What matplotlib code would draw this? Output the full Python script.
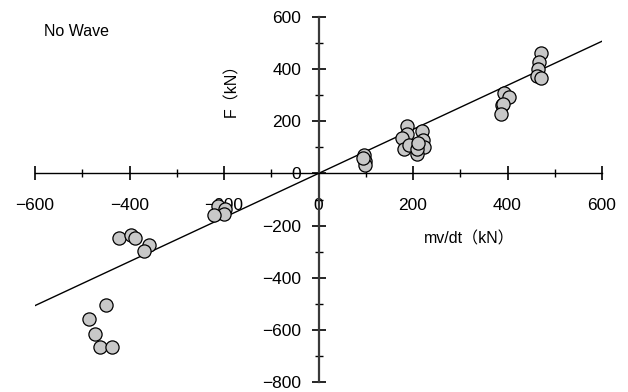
import matplotlib.pyplot as plt
from matplotlib.ticker import MultipleLocator

plt.rcParams['font.family'] = ['Liberation Sans', 'Noto Sans CJK JP', 'DejaVu Sans']

# measured momentum rate vs. force, no wave case
mvdt = [471, 467, 465, 463, 471,
        392, 403, 388, 390, 386,
        187, 187, 177, 181, 192, 220, 222, 223, 209, 208, 211,
        96, 98, 99, 94,
        -212, -198, -200, -221,
        -422, -397, -388, -359, -369,
        -450, -485, -473, -462, -438]
force = [461, 427, 401, 374, 366,
         308, 294, 262, 266, 228,
         181, 151, 136, 94, 109, 164, 130, 100, 75, 92, 115,
         69, 47, 32, 60,
         -125, -137, -156, -160,
         -249, -237, -246, -275, -296,
         -506, -557, -615, -665, -665]

slope = 0.845
fit_x = [-600, 600]
fit_y = [slope * v for v in fit_x]

fig = plt.figure(figsize=(6.28, 3.92), dpi=100)
ax = fig.add_axes([35 / 628, 10 / 392, 567 / 628, 365 / 392])

ax.plot(fit_x, fit_y, color='black', lw=1.0, zorder=2)
ax.scatter(mvdt, force, s=90, facecolor='#c8c8c8', edgecolor='black',
           linewidth=0.9, zorder=3, clip_on=False)

ax.set_xlim(-600, 600)
ax.set_ylim(-800, 600)

for side in ['top', 'right']:
    ax.spines[side].set_visible(False)
ax.spines['left'].set_position(('data', 0))
ax.spines['bottom'].set_position(('data', 0))
ax.spines['left'].set_color('#3a3a3a')
ax.spines['left'].set_linewidth(1.6)
ax.spines['bottom'].set_linewidth(1.0)

ax.xaxis.set_major_locator(MultipleLocator(200))
ax.xaxis.set_minor_locator(MultipleLocator(100))
ax.yaxis.set_major_locator(MultipleLocator(200))
ax.yaxis.set_minor_locator(MultipleLocator(100))
ax.tick_params(which='major', direction='inout', length=10, width=1.2,
               labelsize=12.5, color='black')
ax.tick_params(which='minor', direction='inout', length=6, width=1.0)
ax.tick_params(axis='x', pad=13)
ax.tick_params(axis='y', pad=7.5)

ax.set_xticks(range(-600, 601, 200))
ax.set_xticklabels(['−600', '−400', '−200', '0', '200', '400', '600'])
ax.set_yticks(range(-800, 601, 200))
ax.set_yticklabels(['−800', '−600', '−400', '−200', '0', '200', '400', '600'])

ax.text(-580, 543, 'No Wave', fontsize=11.5, va='center', ha='left')
ax.text(-183, 333, 'F（kN）', fontsize=11.5, rotation=90, va='center', ha='center')
ax.text(320, -250, 'mv/dt（kN）', fontsize=11.5, va='center', ha='center')

fig.savefig('out.png', dpi=100)
